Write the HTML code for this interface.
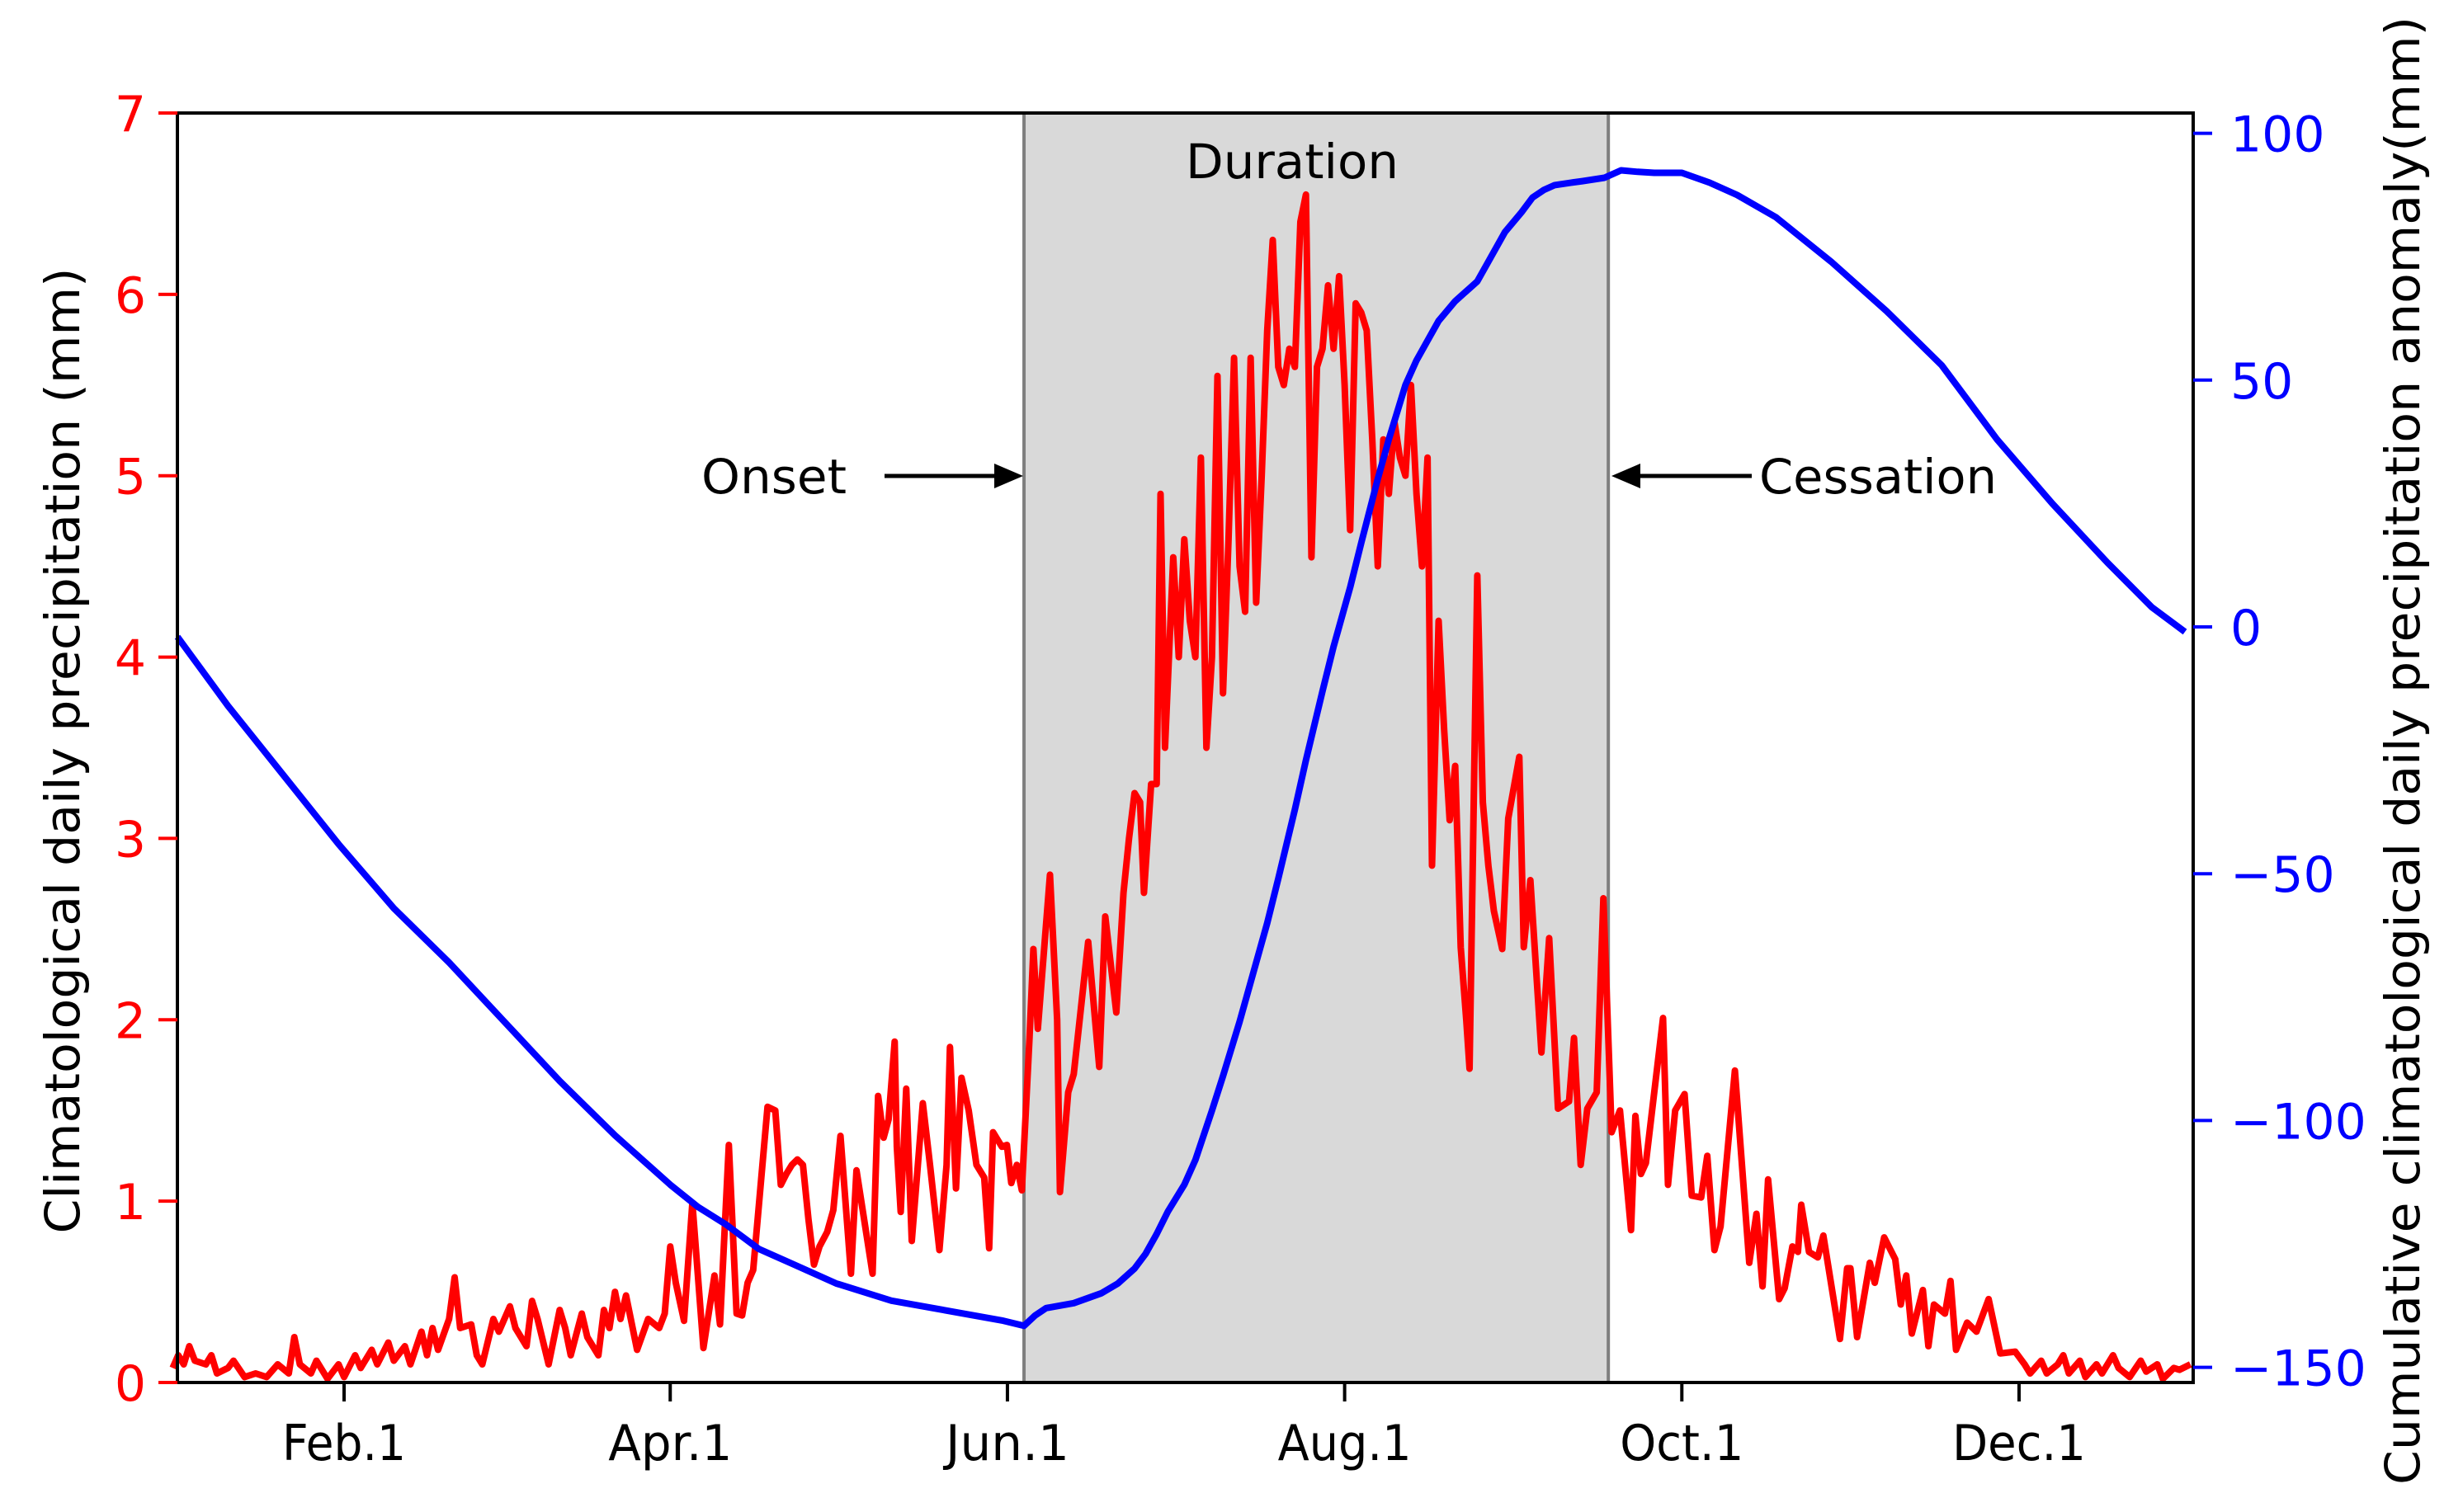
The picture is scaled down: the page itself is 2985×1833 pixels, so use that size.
<!DOCTYPE html>
<html><head><meta charset="utf-8"><style>
html,body{margin:0;padding:0;background:#fff;}
svg{display:block;}
text{font-family:"DejaVu Sans","Liberation Sans",sans-serif;}
</style></head><body>
<svg id="chart" width="2985" height="1833" viewBox="0 0 2985 1833" xmlns="http://www.w3.org/2000/svg">
<rect x="0" y="0" width="2985" height="1833" fill="#fff"/>
<g id="shade"></g>
<g id="series"></g>
<g id="axes"></g>
<g id="annot"></g>
</svg>
<script>
const xTickLabels = ["Feb.1","Apr.1","Jun.1","Aug.1","Oct.1","Dec.1"];
const xTickDays = [31,90,151,212,273,334];
const leftTicks = [0,1,2,3,4,5,6,7];
const rightTicks = [100,50,0,-50,-100,-150];
const rightTickLabels = ["100","50","0","\u221250","\u2212100","\u2212150"];
const onsetDay = 154;
const cessationDay = 259.7;
const precipDays = [0,1,2,3,4,6,7,8,10,11,13,15,17,19,21,22,23,25,26,28,30,31,
33,34,36,37,39,40,42,43,45,46,47,48,50,51,52,54,55,56,58,59,
61,62,64,65,66,68,70,71,72,74,75,77,78,79,80,81,82,84,86,88,89,
90,91,92.5,94,96,98,99,100.6,102,103,104,105,107.6,109,110,111,112,113,114,115,116,117,118.4,119.5,120.8,122.7,123.7,126.6,127.6,128.6,129.5,130.6,131,131.7,132.7,133.7,135.7,137,138.7,140,140.6,141.7,142.7,144,145.4,146.8,147.7,148.4,150,150.9,151.7,152.7,153.6,
155,155.7,156.5,158.7,160,160.5,162,163,165.6,167.6,168.7,170.7,172,173,174,175,175.7,177,178,178.7,179.5,181,182,183,184,185,186,187,188,189,190,191,192,193,194,195,196,197,198,199,200,201,202,203,204,205,206,207,208,209,210,211,212,213,214,215,216,217,218,219,220,221,222,223,224,225,226,227,227.8,229,230,231,232,233,234,234.6,236,237,238,239,240.5,241.6,243.6,244.4,245.6,247.6,249,250.6,252.6,253.5,254.7,255.9,257.6,258.8,260.3,261.8,263.8,264.6,265.6,266.5,269.6,270.5,271.8,273.5,274.8,276.5,277.6,278.9,280,282.6,285.2,286.5,287.6,288.6,290.6,291.6,293,294,294.6,296,297.6,298.6,299.5,301.6,302.9,303.5,304.7,307,307.9,309.6,311.6,312.6,313.6,314.6,316.6,317.6,318.6,320.6,321.6,322.6,324.6,326.3,328.5,330.6,333.3,
335,336,338,339,341,342,343,345,346,348,349,351,352,354,356,357,359,360,362,363,365];
const precipVals = [0.08,0.15,0.1,0.2,0.12,0.1,0.15,0.05,0.08,0.12,0.03,0.05,0.03,0.1,0.05,0.25,0.1,0.05,0.12,0.02,0.1,0.03,
0.15,0.08,0.18,0.1,0.22,0.12,0.2,0.1,0.28,0.15,0.3,0.18,0.35,0.58,0.3,0.32,0.15,0.1,0.35,0.28,
0.42,0.3,0.2,0.45,0.35,0.1,0.4,0.3,0.15,0.38,0.25,0.15,0.4,0.3,0.5,0.35,0.48,0.18,0.35,0.3,0.38,
0.75,0.55,0.34,0.99,0.19,0.59,0.32,1.31,0.38,0.37,0.55,0.62,1.52,1.5,1.09,1.15,1.2,1.23,1.2,0.9,0.65,0.75,0.83,0.95,1.36,0.6,1.17,0.6,1.58,1.35,1.45,1.88,1.3,0.94,1.62,0.78,1.54,1.2,0.73,1.2,1.85,1.07,1.68,1.5,1.2,1.13,0.74,1.38,1.3,1.31,1.1,1.2,1.06,
1.9,2.39,1.95,2.8,2.0,1.05,1.6,1.7,2.43,1.74,2.57,2.04,2.7,3.0,3.25,3.2,2.7,3.3,3.3,4.9,3.5,4.55,4.0,4.65,4.2,4.0,5.1,3.5,4.0,5.55,3.8,4.65,5.65,4.5,4.25,5.65,4.3,5.0,5.8,6.3,5.6,5.5,5.7,5.6,6.4,6.55,4.55,5.6,5.7,6.05,5.7,6.1,5.5,4.7,5.95,5.9,5.8,5.2,4.5,5.2,4.9,5.3,5.1,5.0,5.5,4.9,4.5,5.1,2.85,4.2,3.6,3.1,3.4,2.4,2.0,1.73,4.45,3.2,2.85,2.6,2.39,3.11,3.45,2.4,2.77,1.82,2.45,1.51,1.55,1.9,1.2,1.51,1.6,2.67,1.38,1.5,0.84,1.47,1.15,1.21,2.01,1.09,1.5,1.59,1.03,1.02,1.25,0.73,0.86,1.72,0.66,0.93,0.53,1.12,0.46,0.52,0.75,0.72,0.98,0.72,0.69,0.81,0.64,0.24,0.63,0.63,0.25,0.66,0.55,0.8,0.68,0.43,0.59,0.27,0.51,0.2,0.43,0.38,0.56,0.18,0.33,0.28,0.46,0.16,0.17,
0.1,0.05,0.12,0.05,0.1,0.15,0.05,0.12,0.03,0.1,0.05,0.15,0.08,0.03,0.12,0.06,0.1,0.02,0.08,0.07,0.1];
const cumDays = [0.85,10,20,30,40,50,60,70,80,90,95,100,106,112,120,130,140,150,154,156,158,163,168,171,174,176,178,180,183,185,188,190,193,195,198,200,203,205,208,210,213,215,218,220,223,225,227,229,232,234,236,238,241,244,246,248,250,253,255,259,262,265,268,273,278,283,290,300,310,320,330,340,350,358,364];
const cumVals = [-2,-16,-30,-44,-57,-68,-80,-92,-103,-113,-117.5,-121,-126,-129,-133,-136.5,-138.5,-140.5,-141.6,-139.5,-138,-137,-135,-133,-130,-127,-123,-118.5,-113,-108,-98,-91,-80,-72,-60,-51,-37,-27,-13,-4,8,17,30,38,49,54,58,62,66,68,70,74,80,84,87,88.5,89.5,90,90.3,91,92.5,92.2,92,92,90,87.5,83,74,64,53,38,25,13,4,-1];

const NS="http://www.w3.org/2000/svg";
const L=215,R=2658,T=137,B=1676;
function xs(d){return L+(d-0.85)*(R-L)/(365.5-0.85);}
function yl(v){return B-v*(B-T)/7;}
function yr(v){return 760-v*5.984;}
function mk(tag,attrs,parent){const e=document.createElementNS(NS,tag);for(const k in attrs)e.setAttribute(k,attrs[k]);parent.appendChild(e);return e;}
const shade=document.getElementById('shade'),series=document.getElementById('series'),axes=document.getElementById('axes');

const sr=mk('rect',{x:xs(onsetDay),y:T,width:xs(cessationDay)-xs(onsetDay),height:B-T,fill:'#d9d9d9'},shade);


const ol=mk('line',{x1:xs(onsetDay),x2:xs(onsetDay),y1:T,y2:B,stroke:'#7f7f7f','stroke-width':4},shade);


const cl=mk('line',{x1:xs(cessationDay),x2:xs(cessationDay),y1:T,y2:B,stroke:'#7f7f7f','stroke-width':4},shade);



let pd='';precipDays.forEach((d,i)=>{pd+=(i?'L':'M')+xs(d).toFixed(1)+','+yl(precipVals[i]).toFixed(1);});
const rp=mk('path',{d:pd,fill:'none',stroke:'#ff0000','stroke-width':8,'stroke-linejoin':'round'},series);


let cd='';cumDays.forEach((d,i)=>{cd+=(i?'L':'M')+xs(d).toFixed(1)+','+yr(cumVals[i]).toFixed(1);});
const bp=mk('path',{d:cd,fill:'none',stroke:'#0000ff','stroke-width':8,'stroke-linejoin':'round'},series);



const fr=mk('rect',{x:L,y:T,width:R-L,height:B-T,fill:'none',stroke:'#000','stroke-width':4},axes);



xTickDays.forEach((d,i)=>{
  const x=xs(d);
  const t=mk('line',{x1:x,x2:x,y1:B,y2:B+23,stroke:'#000','stroke-width':4},axes);
  
  
  const lb=mk('text',{x:x,y:1770,'font-size':60,'text-anchor':'middle',fill:'#000',textLength:(/Aug|Dec/.test(xTickLabels[i])?162:150),lengthAdjust:'spacingAndGlyphs'},axes);
  lb.textContent=xTickLabels[i];
  
  
});
leftTicks.forEach(v=>{
  const y=yl(v);
  const t=mk('line',{x1:L-23,x2:L,y1:y,y2:y,stroke:'#ff0000','stroke-width':4},axes);
  
  
  const lb=mk('text',{x:177,y:y+22,'font-size':60,'text-anchor':'end',fill:'#ff0000'},axes);
  lb.textContent=String(v);
  
  
});
rightTicks.forEach((v,i)=>{
  const y=yr(v);
  const t=mk('line',{x1:R,x2:R+23,y1:y,y2:y,stroke:'#0000ff','stroke-width':4},axes);
  
  
  const lb=mk('text',{x:2703,y:y+22,'font-size':60,'text-anchor':'start',fill:'#0000ff'},axes);
  lb.textContent=rightTickLabels[i];
  
  
});
</script>
<svg style="position:absolute;left:0;top:0" width="2985" height="1833" viewBox="0 0 2985 1833" xmlns="http://www.w3.org/2000/svg">
<text transform="translate(96,910) rotate(-90)" text-anchor="middle" font-size="58" textLength="1171" lengthAdjust="spacingAndGlyphs" fill="#000">Climatological daily precipitation (mm)</text>
<text transform="translate(2932,910) rotate(-90)" text-anchor="middle" font-size="58" textLength="1780" lengthAdjust="spacingAndGlyphs" fill="#000">Cumulative climatological daily precipitation anomaly(mm)</text>
<text x="1566" y="216" text-anchor="middle" font-size="58" textLength="258" lengthAdjust="spacingAndGlyphs" fill="#000">Duration</text>
<text x="938" y="598" text-anchor="middle" font-size="58" textLength="176" lengthAdjust="spacingAndGlyphs" fill="#000">Onset</text>
<text x="2276" y="598" text-anchor="middle" font-size="58" textLength="288" lengthAdjust="spacingAndGlyphs" fill="#000">Cessation</text>
<g>
<line x1="1072" y1="577" x2="1210" y2="577" stroke="#000" stroke-width="5"/>
<polygon points="1240,577 1205,562 1205,592" fill="#000"/>
</g>
<g>
<line x1="2123" y1="577" x2="1985" y2="577" stroke="#000" stroke-width="5"/>
<polygon points="1953,577 1988,562 1988,592" fill="#000"/>
</g>
</svg>
</body></html>
